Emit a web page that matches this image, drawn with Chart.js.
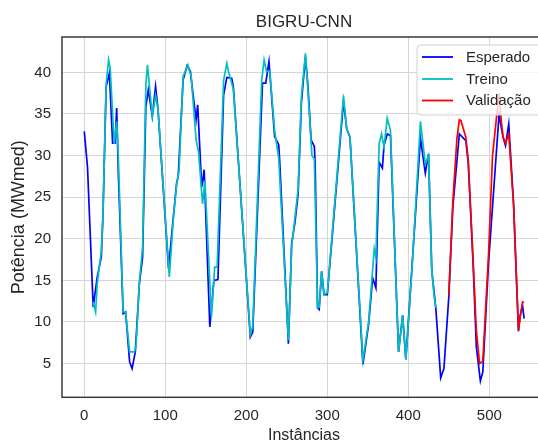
<!DOCTYPE html>
<html><head><meta charset="utf-8">
<script src="https://cdn.jsdelivr.net/npm/chart.js@4.4.0/dist/chart.umd.min.js"></script>
<style>
html,body{margin:0;padding:0;overflow:hidden;background:#fff;width:538px;height:442px}
#wrap{position:absolute;left:0;top:0;width:548px;height:448px}
canvas{display:block}
</style>
</head><body><div id="wrap"><canvas id="c" width="548" height="448" style="width:548px;height:448px"></canvas></div>
<script>
const chartTitle = "BIGRU-CNN";
const xTitle = "Instâncias";
const yTitle = "Potência (MWmed)";
const seriesNames = ["Esperado", "Treino", "Validação"];
const xTicks = [0, 100, 200, 300, 400, 500];
const yTicks = [5, 10, 15, 20, 25, 30, 35, 40];

const esperadoX = [0,4,11,16,21,23,27,31,35,38,40,42,48,51,56,59,63,68,72,76,79,84,88,91,104,110,114,116,122,127,131,138,140,145,148,155,160,165,172,176,182,184,205,208,220,224,228,235,240,241,252,256,260,264,268,273,276,280,284,285,288,290,293,296,300,306,320,324,328,344,351,356,360,364,368,370,374,378,388,393,397,415,421,425,429,434,440,444,450,455,463,471,474,480,484,489,492,499,512,517,520,524,530,536,538,541,543];
const esperadoY = [32.9,28.6,11.8,15.4,17.8,22.6,38.3,39.9,31.5,31.5,35.7,28,11,11.2,5.2,4.4,6.4,14.6,17.8,35.9,37.9,34.7,38.3,35.6,16.4,22.7,26.7,27.5,39.1,40.8,40.1,34.3,36.1,26.2,28.3,9.4,15,15.1,37.3,39.4,39.3,38.3,8.2,8.8,38.7,38.7,41.3,32.3,31.3,29.8,7.4,19.4,21.9,25.4,36.3,41.9,38.5,31.9,31.1,29.2,11.7,11.5,16.1,13.3,13.3,20.2,36.5,33.2,32.2,4.9,9.7,15.3,14.1,29.2,28.5,31.2,32.6,32.4,6.4,10.8,5.5,32.1,27.9,30.2,16.2,11.6,3.3,4.4,13,23.8,32.6,31.8,29.1,17,7,2.9,4,17,34.9,32.2,31.2,33.8,24.2,8.9,10.7,12,10.4];

const treinoX = [11,14,16,21,23,27,30,32,37,40,42,48,51,56,62,64,68,72,76,78,84,88,91,105,110,114,117,122,128,132,138,141,146,149,157,161,164,172,176,178,184,205,208,219,222,225,229,235,240,252,256,260,264,268,273,276,281,284,288,290,293,296,300,306,320,324,328,344,351,358,360,364,367,370,374,378,388,393,397,405,415,421,425,429,432,434];
const treinoY = [12.4,11.2,14.6,18.5,22.6,38.6,41.5,40.5,31.4,34.1,30,11.2,11.2,6.4,6.4,7.2,14.8,19,38.5,40.9,34.7,37.2,35.6,15.4,22.5,26.5,28.2,39.5,40.9,39.5,31.9,30.5,24.2,27,10.6,16.6,16.6,39,41.1,40.1,38,8.5,9.5,39,41.5,40.1,40.2,33,29.7,7.8,19,22.5,26,37,42.3,38,30,29.6,11.7,11.8,16.1,13.3,13.5,20.5,37.2,33.2,32.2,5.4,10,18.8,17.8,31.4,32.6,31,34.5,33,6.4,10.8,5.5,17,34.1,29,30,16.2,13,11.7];

const validacaoX = [450,455,460,463,465,471,474,480,484,488,492,499,504,512,515,517,520,524,530,536,538,541,543];
const validacaoY = [13.2,24.5,32,34.3,34.2,32.2,29.5,17.5,9,5,5.3,18,30,37.5,34,32.2,31.5,32.6,24,9,10.5,12.4,12.4];

function pts(xs, ys) { return xs.map((x, i) => ({x: x, y: ys[i]})); }

const FONT = "'Liberation Sans', Arial, Helvetica, sans-serif";
const TXT = '#262626';
const colors = ['#0000ff', '#00bfbf', '#ff0000'];

const decor = {
  id: 'decor',
  afterDatasetsDraw(chart) {
    const {ctx, chartArea: a} = chart;
    ctx.save();
    ctx.strokeStyle = '#3a3a3a';
    ctx.lineWidth = 1.5;
    ctx.strokeRect(a.left, a.top, a.right - a.left, a.bottom - a.top);
    ctx.restore();
  },
  afterDraw(chart) {
    const {ctx, chartArea: a} = chart;
    ctx.save();
    ctx.fillStyle = TXT;
    ctx.font = '17px ' + FONT;
    ctx.textAlign = 'center';
    ctx.textBaseline = 'middle';
    ctx.fillText(chartTitle, (a.left + a.right) / 2, 22.5);
    const bx = 417, by = 45, bw = 140, bh = 70, r = 4;
    ctx.beginPath();
    ctx.moveTo(bx + r, by);
    ctx.lineTo(bx + bw - r, by);
    ctx.arcTo(bx + bw, by, bx + bw, by + r, r);
    ctx.lineTo(bx + bw, by + bh - r);
    ctx.arcTo(bx + bw, by + bh, bx + bw - r, by + bh, r);
    ctx.lineTo(bx + r, by + bh);
    ctx.arcTo(bx, by + bh, bx, by + bh - r, r);
    ctx.lineTo(bx, by + r);
    ctx.arcTo(bx, by, bx + r, by, r);
    ctx.closePath();
    ctx.fillStyle = 'rgba(255,255,255,0.8)';
    ctx.fill();
    ctx.strokeStyle = '#d0d0d0';
    ctx.lineWidth = 1;
    ctx.stroke();
    const rows = [57, 79, 100.5];
    ctx.font = '15px ' + FONT;
    ctx.textAlign = 'left';
    ctx.textBaseline = 'middle';
    seriesNames.forEach((n, i) => {
      ctx.strokeStyle = colors[i];
      ctx.lineWidth = 1.8;
      ctx.beginPath();
      ctx.moveTo(422, rows[i]);
      ctx.lineTo(453, rows[i]);
      ctx.stroke();
      ctx.fillStyle = TXT;
      ctx.fillText(n, 466, rows[i] + 0.5);
    });
    ctx.restore();
  }
};

new Chart(document.getElementById('c'), {
  type: 'line',
  data: {
    datasets: [
      {label: seriesNames[0], data: pts(esperadoX, esperadoY), borderColor: colors[0], borderWidth: 1.7, pointRadius: 0, tension: 0, fill: false, order: 3},
      {label: seriesNames[1], data: pts(treinoX, treinoY), borderColor: colors[1], borderWidth: 1.7, pointRadius: 0, tension: 0, fill: false, order: 2},
      {label: seriesNames[2], data: pts(validacaoX, validacaoY), borderColor: colors[2], borderWidth: 1.7, pointRadius: 0, tension: 0, fill: false, order: 1}
    ]
  },
  options: {
    responsive: false,
    animation: false,
    devicePixelRatio: 1,
    layout: {padding: {top: 37, right: 2, left: 0, bottom: 0}},
    plugins: {legend: {display: false}, title: {display: false}, tooltip: {enabled: false}},
    scales: {
      x: {
        type: 'linear', min: -27.5, max: 570,
        afterBuildTicks: s => { s.ticks = xTicks.map(v => ({value: v})); },
        afterFit: s => { s.height = 50.7; },
        grid: {color: '#d6d6d6', lineWidth: 1, drawTicks: false},
        border: {display: false},
        ticks: {color: TXT, font: {family: FONT, size: 15}, padding: 10, maxRotation: 0},
        title: {display: true, text: xTitle, color: TXT, font: {family: FONT, size: 16}, padding: {top: 0, bottom: 3}}
      },
      y: {
        type: 'linear', min: 0.95, max: 44.25,
        afterBuildTicks: s => { s.ticks = yTicks.map(v => ({value: v})); },
        afterFit: s => { s.width = 62; },
        grid: {color: '#d6d6d6', lineWidth: 1, drawTicks: false},
        border: {display: false},
        ticks: {color: TXT, font: {family: FONT, size: 15}, padding: 11},
        title: {display: true, text: yTitle, color: TXT, font: {family: FONT, size: 18}, padding: {top: 8, bottom: 0}}
      }
    }
  },
  plugins: [decor]
});
</script>
</body></html>
